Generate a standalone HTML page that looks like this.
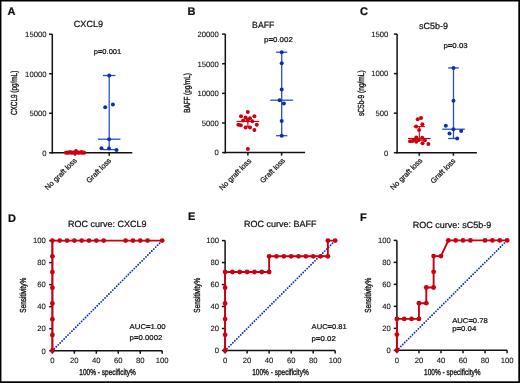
<!DOCTYPE html>
<html><head><meta charset="utf-8"><title>Figure</title>
<style>
html,body{margin:0;padding:0;background:#fff;}
body{width:520px;height:383px;overflow:hidden;}
svg{display:block;will-change:transform;}
text{stroke:#111;stroke-width:0.22px;}
.nb{stroke:none;}
.tk{stroke-width:0.1px;}
.ax{stroke-width:0.35px;}
svg{font-family:"Liberation Sans", sans-serif;text-rendering:geometricPrecision;}
</style></head>
<body>
<svg width="520" height="383" viewBox="0 0 520 383">
<rect x="0" y="0" width="520" height="383" fill="#fff"/>
<rect x="0" y="0" width="520" height="1.5" fill="#000"/>
<rect x="0" y="0" width="1.45" height="383" fill="#000"/>
<rect x="518.3" y="0" width="1.7" height="383" fill="#000"/>
<rect x="0" y="381.3" width="520" height="1.7" fill="#000"/>
<text x="7.40" y="14.90" font-size="11" text-anchor="start" fill="#111" font-weight="bold">A</text>
<text x="187.60" y="15.00" font-size="11" text-anchor="start" fill="#111" font-weight="bold">B</text>
<text x="360.00" y="15.00" font-size="11" text-anchor="start" fill="#111" font-weight="bold">C</text>
<text x="7.90" y="221.50" font-size="11" text-anchor="start" fill="#111" font-weight="bold">D</text>
<text x="188.00" y="220.30" font-size="11" text-anchor="start" fill="#111" font-weight="bold">E</text>
<text x="360.00" y="221.10" font-size="11" text-anchor="start" fill="#111" font-weight="bold">F</text>
<line x1="52.30" y1="34.20" x2="52.30" y2="153.55" stroke="#111" stroke-width="1.5" />
<line x1="51.55" y1="152.80" x2="132.30" y2="152.80" stroke="#111" stroke-width="1.5" />
<line x1="49.10" y1="152.80" x2="52.30" y2="152.80" stroke="#111" stroke-width="1.5" />
<text x="46.50" y="155.60" font-size="7.7" text-anchor="end" fill="#111" class="tk">0</text>
<line x1="49.10" y1="113.27" x2="52.30" y2="113.27" stroke="#111" stroke-width="1.5" />
<text x="46.50" y="116.07" font-size="7.7" text-anchor="end" fill="#111" class="tk">5000</text>
<line x1="49.10" y1="73.73" x2="52.30" y2="73.73" stroke="#111" stroke-width="1.5" />
<text x="46.50" y="76.53" font-size="7.7" text-anchor="end" fill="#111" class="tk">10000</text>
<line x1="49.10" y1="34.20" x2="52.30" y2="34.20" stroke="#111" stroke-width="1.5" />
<text x="46.50" y="37.00" font-size="7.7" text-anchor="end" fill="#111" class="tk">15000</text>
<line x1="75.00" y1="152.80" x2="75.00" y2="155.80" stroke="#111" stroke-width="1.5" />
<line x1="109.20" y1="152.80" x2="109.20" y2="155.80" stroke="#111" stroke-width="1.5" />
<text x="73.80" y="27.30" font-size="9" text-anchor="start" fill="#111" textLength="29.20" lengthAdjust="spacingAndGlyphs">CXCL9</text>
<text x="93.70" y="54.10" font-size="7" text-anchor="start" fill="#111" textLength="27.60" lengthAdjust="spacingAndGlyphs">p<tspan style="stroke-width:0.45px">=</tspan>0.001</text>
<text x="0" y="0" font-size="8.8" text-anchor="start" fill="#111" transform="translate(17.30,115.00) rotate(-90)" class="ax" textLength="44.30" lengthAdjust="spacingAndGlyphs">CXCL9 (pg/mL)</text>
<text x="0" y="0" font-size="7.45" text-anchor="end" fill="#111" transform="translate(77.30,161.00) rotate(-45)">No graft loss</text>
<text x="0" y="0" font-size="7.45" text-anchor="end" fill="#111" transform="translate(111.70,161.10) rotate(-45)">Graft loss</text>
<line x1="64.00" y1="152.40" x2="86.00" y2="152.40" stroke="#cc0010" stroke-width="1.3" />
<circle cx="66.00" cy="152.80" r="2.0" fill="#cc0010"/>
<circle cx="68.60" cy="152.80" r="2.0" fill="#cc0010"/>
<circle cx="71.20" cy="152.80" r="2.0" fill="#cc0010"/>
<circle cx="73.80" cy="152.80" r="2.0" fill="#cc0010"/>
<circle cx="76.40" cy="152.80" r="2.0" fill="#cc0010"/>
<circle cx="79.00" cy="152.80" r="2.0" fill="#cc0010"/>
<circle cx="81.60" cy="152.80" r="2.0" fill="#cc0010"/>
<circle cx="84.20" cy="152.80" r="2.0" fill="#cc0010"/>
<circle cx="67.30" cy="152.60" r="2.0" fill="#cc0010"/>
<circle cx="73.00" cy="152.60" r="2.0" fill="#cc0010"/>
<circle cx="78.70" cy="152.60" r="2.0" fill="#cc0010"/>
<circle cx="83.20" cy="152.60" r="2.0" fill="#cc0010"/>
<circle cx="70.10" cy="152.10" r="2.0" fill="#cc0010"/>
<circle cx="76.00" cy="151.00" r="2.0" fill="#cc0010"/>
<circle cx="81.40" cy="152.10" r="2.0" fill="#cc0010"/>
<line x1="109.20" y1="75.50" x2="109.20" y2="149.60" stroke="#2452c2" stroke-width="1.3" />
<line x1="102.95" y1="75.50" x2="115.45" y2="75.50" stroke="#2452c2" stroke-width="1.3" />
<line x1="102.95" y1="149.60" x2="115.45" y2="149.60" stroke="#2452c2" stroke-width="1.3" />
<line x1="97.95" y1="139.20" x2="120.45" y2="139.20" stroke="#2452c2" stroke-width="1.3" />
<circle cx="109.20" cy="75.50" r="2.0" fill="#0a30b0"/>
<circle cx="112.90" cy="104.55" r="2.0" fill="#0a30b0"/>
<circle cx="105.20" cy="107.30" r="2.0" fill="#0a30b0"/>
<circle cx="109.10" cy="139.20" r="2.0" fill="#0a30b0"/>
<circle cx="101.50" cy="148.30" r="2.0" fill="#0a30b0"/>
<circle cx="109.00" cy="148.60" r="2.0" fill="#0a30b0"/>
<circle cx="116.50" cy="149.90" r="2.0" fill="#0a30b0"/>
<line x1="225.30" y1="34.10" x2="225.30" y2="153.35" stroke="#111" stroke-width="1.5" />
<line x1="224.55" y1="152.60" x2="305.10" y2="152.60" stroke="#111" stroke-width="1.5" />
<line x1="222.10" y1="152.60" x2="225.30" y2="152.60" stroke="#111" stroke-width="1.5" />
<text x="218.80" y="155.40" font-size="7.7" text-anchor="end" fill="#111" class="tk">0</text>
<line x1="222.10" y1="122.97" x2="225.30" y2="122.97" stroke="#111" stroke-width="1.5" />
<text x="218.80" y="125.77" font-size="7.7" text-anchor="end" fill="#111" class="tk">5000</text>
<line x1="222.10" y1="93.35" x2="225.30" y2="93.35" stroke="#111" stroke-width="1.5" />
<text x="218.80" y="96.15" font-size="7.7" text-anchor="end" fill="#111" class="tk">10000</text>
<line x1="222.10" y1="63.72" x2="225.30" y2="63.72" stroke="#111" stroke-width="1.5" />
<text x="218.80" y="66.52" font-size="7.7" text-anchor="end" fill="#111" class="tk">15000</text>
<line x1="222.10" y1="34.10" x2="225.30" y2="34.10" stroke="#111" stroke-width="1.5" />
<text x="218.80" y="36.90" font-size="7.7" text-anchor="end" fill="#111" class="tk">20000</text>
<line x1="247.90" y1="152.60" x2="247.90" y2="155.60" stroke="#111" stroke-width="1.5" />
<line x1="281.60" y1="152.60" x2="281.60" y2="155.60" stroke="#111" stroke-width="1.5" />
<text x="252.10" y="27.90" font-size="9" text-anchor="start" fill="#111" textLength="22.30" lengthAdjust="spacingAndGlyphs">BAFF</text>
<text x="264.00" y="41.70" font-size="7" text-anchor="start" fill="#111" textLength="28.80" lengthAdjust="spacingAndGlyphs">p<tspan style="stroke-width:0.45px">=</tspan>0.002</text>
<text x="0" y="0" font-size="8.8" text-anchor="start" fill="#111" transform="translate(190.00,112.80) rotate(-90)" class="ax" textLength="39.70" lengthAdjust="spacingAndGlyphs">BAFF (pg/mL)</text>
<text x="0" y="0" font-size="7.45" text-anchor="end" fill="#111" transform="translate(251.80,161.30) rotate(-45)">No graft loss</text>
<text x="0" y="0" font-size="7.45" text-anchor="end" fill="#111" transform="translate(285.50,161.10) rotate(-45)">Graft loss</text>
<line x1="247.90" y1="118.60" x2="247.90" y2="126.40" stroke="#cc0010" stroke-width="1.1" />
<line x1="244.40" y1="118.60" x2="251.40" y2="118.60" stroke="#cc0010" stroke-width="1.1" />
<line x1="244.40" y1="126.40" x2="251.40" y2="126.40" stroke="#cc0010" stroke-width="1.1" />
<line x1="236.55" y1="121.40" x2="259.25" y2="121.40" stroke="#cc0010" stroke-width="1.1" />
<circle cx="247.80" cy="112.10" r="2.0" fill="#cc0010"/>
<circle cx="241.00" cy="116.20" r="2.0" fill="#cc0010"/>
<circle cx="254.40" cy="116.20" r="2.0" fill="#cc0010"/>
<circle cx="245.60" cy="117.50" r="2.0" fill="#cc0010"/>
<circle cx="250.00" cy="118.20" r="2.0" fill="#cc0010"/>
<circle cx="243.20" cy="120.60" r="2.0" fill="#cc0010"/>
<circle cx="247.60" cy="120.60" r="2.0" fill="#cc0010"/>
<circle cx="252.30" cy="121.30" r="2.0" fill="#cc0010"/>
<circle cx="238.40" cy="124.70" r="2.0" fill="#cc0010"/>
<circle cx="240.80" cy="125.30" r="2.0" fill="#cc0010"/>
<circle cx="256.80" cy="124.80" r="2.0" fill="#cc0010"/>
<circle cx="245.60" cy="127.40" r="2.0" fill="#cc0010"/>
<circle cx="250.00" cy="127.40" r="2.0" fill="#cc0010"/>
<circle cx="254.40" cy="130.10" r="2.0" fill="#cc0010"/>
<circle cx="247.90" cy="148.90" r="2.0" fill="#cc0010"/>
<line x1="281.70" y1="52.20" x2="281.70" y2="135.70" stroke="#2452c2" stroke-width="1.3" />
<line x1="276.10" y1="52.20" x2="287.30" y2="52.20" stroke="#2452c2" stroke-width="1.3" />
<line x1="276.10" y1="135.70" x2="287.30" y2="135.70" stroke="#2452c2" stroke-width="1.3" />
<line x1="270.25" y1="100.20" x2="293.15" y2="100.20" stroke="#2452c2" stroke-width="1.3" />
<circle cx="281.70" cy="52.20" r="2.0" fill="#0a30b0"/>
<circle cx="281.70" cy="63.20" r="2.0" fill="#0a30b0"/>
<circle cx="281.70" cy="89.40" r="2.0" fill="#0a30b0"/>
<circle cx="279.60" cy="100.20" r="2.0" fill="#0a30b0"/>
<circle cx="283.90" cy="103.40" r="2.0" fill="#0a30b0"/>
<circle cx="281.70" cy="120.90" r="2.0" fill="#0a30b0"/>
<circle cx="281.70" cy="135.70" r="2.0" fill="#0a30b0"/>
<line x1="397.10" y1="34.10" x2="397.10" y2="153.45" stroke="#111" stroke-width="1.5" />
<line x1="396.35" y1="152.70" x2="476.90" y2="152.70" stroke="#111" stroke-width="1.5" />
<line x1="393.90" y1="152.70" x2="397.10" y2="152.70" stroke="#111" stroke-width="1.5" />
<text x="388.30" y="155.50" font-size="7.7" text-anchor="end" fill="#111" class="tk">0</text>
<line x1="393.90" y1="113.17" x2="397.10" y2="113.17" stroke="#111" stroke-width="1.5" />
<text x="388.30" y="115.97" font-size="7.7" text-anchor="end" fill="#111" class="tk">500</text>
<line x1="393.90" y1="73.63" x2="397.10" y2="73.63" stroke="#111" stroke-width="1.5" />
<text x="388.30" y="76.43" font-size="7.7" text-anchor="end" fill="#111" class="tk">1000</text>
<line x1="393.90" y1="34.10" x2="397.10" y2="34.10" stroke="#111" stroke-width="1.5" />
<text x="388.30" y="36.90" font-size="7.7" text-anchor="end" fill="#111" class="tk">1500</text>
<line x1="419.20" y1="152.70" x2="419.20" y2="155.70" stroke="#111" stroke-width="1.5" />
<line x1="453.40" y1="152.70" x2="453.40" y2="155.70" stroke="#111" stroke-width="1.5" />
<text x="419.00" y="28.50" font-size="9" text-anchor="start" fill="#111" textLength="29.10" lengthAdjust="spacingAndGlyphs">sC5b-9</text>
<text x="443.40" y="47.50" font-size="7" text-anchor="start" fill="#111" textLength="24.30" lengthAdjust="spacingAndGlyphs">p<tspan style="stroke-width:0.45px">=</tspan>0.03</text>
<text x="0" y="0" font-size="8.8" text-anchor="start" fill="#111" transform="translate(363.70,116.00) rotate(-90)" class="ax" textLength="45.70" lengthAdjust="spacingAndGlyphs">sC5b-9 (ng/mL)</text>
<text x="0" y="0" font-size="7.45" text-anchor="end" fill="#111" transform="translate(422.80,161.00) rotate(-45)">No graft loss</text>
<text x="0" y="0" font-size="7.45" text-anchor="end" fill="#111" transform="translate(456.00,161.40) rotate(-45)">Graft loss</text>
<line x1="419.30" y1="126.60" x2="419.30" y2="140.20" stroke="#cc0010" stroke-width="1.1" />
<line x1="413.65" y1="126.60" x2="424.95" y2="126.60" stroke="#cc0010" stroke-width="1.1" />
<line x1="413.65" y1="140.20" x2="424.95" y2="140.20" stroke="#cc0010" stroke-width="1.1" />
<line x1="408.00" y1="138.50" x2="430.60" y2="138.50" stroke="#cc0010" stroke-width="1.1" />
<circle cx="417.70" cy="119.30" r="2.0" fill="#cc0010"/>
<circle cx="421.00" cy="118.10" r="2.0" fill="#cc0010"/>
<circle cx="416.10" cy="126.60" r="2.0" fill="#cc0010"/>
<circle cx="422.40" cy="124.20" r="2.0" fill="#cc0010"/>
<circle cx="419.10" cy="129.90" r="2.0" fill="#cc0010"/>
<circle cx="416.30" cy="137.40" r="2.0" fill="#cc0010"/>
<circle cx="422.20" cy="137.80" r="2.0" fill="#cc0010"/>
<circle cx="410.10" cy="141.20" r="2.0" fill="#cc0010"/>
<circle cx="412.50" cy="140.90" r="2.0" fill="#cc0010"/>
<circle cx="416.30" cy="141.70" r="2.0" fill="#cc0010"/>
<circle cx="418.70" cy="140.10" r="2.0" fill="#cc0010"/>
<circle cx="424.90" cy="140.30" r="2.0" fill="#cc0010"/>
<circle cx="422.50" cy="143.30" r="2.0" fill="#cc0010"/>
<circle cx="428.40" cy="144.10" r="2.0" fill="#cc0010"/>
<circle cx="414.70" cy="139.80" r="2.0" fill="#cc0010"/>
<line x1="453.50" y1="67.90" x2="453.50" y2="138.50" stroke="#2452c2" stroke-width="1.3" />
<line x1="448.10" y1="67.90" x2="458.90" y2="67.90" stroke="#2452c2" stroke-width="1.3" />
<line x1="448.10" y1="138.50" x2="458.90" y2="138.50" stroke="#2452c2" stroke-width="1.3" />
<line x1="442.20" y1="129.20" x2="464.80" y2="129.20" stroke="#2452c2" stroke-width="1.3" />
<circle cx="453.50" cy="67.90" r="2.0" fill="#0a30b0"/>
<circle cx="453.50" cy="100.80" r="2.0" fill="#0a30b0"/>
<circle cx="445.80" cy="125.80" r="2.0" fill="#0a30b0"/>
<circle cx="453.40" cy="129.20" r="2.0" fill="#0a30b0"/>
<circle cx="461.20" cy="131.10" r="2.0" fill="#0a30b0"/>
<circle cx="449.50" cy="133.40" r="2.0" fill="#0a30b0"/>
<circle cx="457.20" cy="138.50" r="2.0" fill="#0a30b0"/>
<line x1="52.40" y1="240.60" x2="52.40" y2="351.45" stroke="#111" stroke-width="1.5" />
<line x1="51.65" y1="350.70" x2="162.20" y2="350.70" stroke="#111" stroke-width="1.5" />
<line x1="49.20" y1="350.70" x2="52.40" y2="350.70" stroke="#111" stroke-width="1.5" />
<text x="45.90" y="353.50" font-size="7.7" text-anchor="end" fill="#111" class="tk">0</text>
<line x1="52.40" y1="350.70" x2="52.40" y2="353.70" stroke="#111" stroke-width="1.5" />
<text x="52.40" y="362.60" font-size="7.7" text-anchor="middle" fill="#111" class="tk">0</text>
<line x1="49.20" y1="328.68" x2="52.40" y2="328.68" stroke="#111" stroke-width="1.5" />
<text x="45.90" y="331.48" font-size="7.7" text-anchor="end" fill="#111" class="tk">20</text>
<line x1="74.36" y1="350.70" x2="74.36" y2="353.70" stroke="#111" stroke-width="1.5" />
<text x="74.36" y="362.60" font-size="7.7" text-anchor="middle" fill="#111" class="tk">20</text>
<line x1="49.20" y1="306.66" x2="52.40" y2="306.66" stroke="#111" stroke-width="1.5" />
<text x="45.90" y="309.46" font-size="7.7" text-anchor="end" fill="#111" class="tk">40</text>
<line x1="96.32" y1="350.70" x2="96.32" y2="353.70" stroke="#111" stroke-width="1.5" />
<text x="96.32" y="362.60" font-size="7.7" text-anchor="middle" fill="#111" class="tk">40</text>
<line x1="49.20" y1="284.64" x2="52.40" y2="284.64" stroke="#111" stroke-width="1.5" />
<text x="45.90" y="287.44" font-size="7.7" text-anchor="end" fill="#111" class="tk">60</text>
<line x1="118.28" y1="350.70" x2="118.28" y2="353.70" stroke="#111" stroke-width="1.5" />
<text x="118.28" y="362.60" font-size="7.7" text-anchor="middle" fill="#111" class="tk">60</text>
<line x1="49.20" y1="262.62" x2="52.40" y2="262.62" stroke="#111" stroke-width="1.5" />
<text x="45.90" y="265.42" font-size="7.7" text-anchor="end" fill="#111" class="tk">80</text>
<line x1="140.24" y1="350.70" x2="140.24" y2="353.70" stroke="#111" stroke-width="1.5" />
<text x="140.24" y="362.60" font-size="7.7" text-anchor="middle" fill="#111" class="tk">80</text>
<line x1="49.20" y1="240.60" x2="52.40" y2="240.60" stroke="#111" stroke-width="1.5" />
<text x="45.90" y="243.40" font-size="7.7" text-anchor="end" fill="#111" class="tk">100</text>
<line x1="162.20" y1="350.70" x2="162.20" y2="353.70" stroke="#111" stroke-width="1.5" />
<text x="162.20" y="362.60" font-size="7.7" text-anchor="middle" fill="#111" class="tk">100</text>
<line x1="52.40" y1="350.70" x2="162.20" y2="240.60" stroke="#0a2cb4" stroke-width="1.85" stroke-dasharray="0 2.76" stroke-linecap="round"/>
<polyline points="52.40,350.70 52.40,240.60 162.20,240.60" fill="none" stroke="#cc0010" stroke-width="1.9" stroke-linejoin="miter"/>
<circle cx="52.40" cy="350.70" r="2.4" fill="#cc0010"/>
<circle cx="52.40" cy="334.97" r="2.4" fill="#cc0010"/>
<circle cx="52.40" cy="319.24" r="2.4" fill="#cc0010"/>
<circle cx="52.40" cy="303.51" r="2.4" fill="#cc0010"/>
<circle cx="52.40" cy="287.79" r="2.4" fill="#cc0010"/>
<circle cx="52.40" cy="272.06" r="2.4" fill="#cc0010"/>
<circle cx="52.40" cy="256.33" r="2.4" fill="#cc0010"/>
<circle cx="52.40" cy="240.60" r="2.4" fill="#cc0010"/>
<circle cx="59.72" cy="240.60" r="2.4" fill="#cc0010"/>
<circle cx="67.04" cy="240.60" r="2.4" fill="#cc0010"/>
<circle cx="74.36" cy="240.60" r="2.4" fill="#cc0010"/>
<circle cx="81.68" cy="240.60" r="2.4" fill="#cc0010"/>
<circle cx="89.00" cy="240.60" r="2.4" fill="#cc0010"/>
<circle cx="96.32" cy="240.60" r="2.4" fill="#cc0010"/>
<circle cx="103.64" cy="240.60" r="2.4" fill="#cc0010"/>
<circle cx="125.60" cy="240.60" r="2.4" fill="#cc0010"/>
<circle cx="132.92" cy="240.60" r="2.4" fill="#cc0010"/>
<circle cx="140.24" cy="240.60" r="2.4" fill="#cc0010"/>
<circle cx="147.56" cy="240.60" r="2.4" fill="#cc0010"/>
<circle cx="162.20" cy="240.60" r="2.4" fill="#cc0010"/>
<text x="107.30" y="227.20" font-size="9" text-anchor="middle" fill="#111">ROC curve: CXCL9</text>
<text x="129.60" y="328.70" font-size="7" text-anchor="start" fill="#111" textLength="36.10" lengthAdjust="spacingAndGlyphs">AUC<tspan style="stroke-width:0.45px">=</tspan>1.00</text>
<text x="129.60" y="339.50" font-size="7" text-anchor="start" fill="#111" textLength="32.70" lengthAdjust="spacingAndGlyphs">p<tspan style="stroke-width:0.45px">=</tspan>0.0002</text>
<text x="107.60" y="374.50" font-size="8.6" text-anchor="middle" fill="#111" class="ax" textLength="56.50" lengthAdjust="spacingAndGlyphs">100% - specificity%</text>
<text x="0" y="0" font-size="8.8" text-anchor="middle" fill="#111" transform="translate(25.60,295.25) rotate(-90)" class="ax" textLength="34.90" lengthAdjust="spacingAndGlyphs">Sensitivity%</text>
<line x1="225.10" y1="240.60" x2="225.10" y2="351.25" stroke="#111" stroke-width="1.5" />
<line x1="224.35" y1="350.50" x2="335.20" y2="350.50" stroke="#111" stroke-width="1.5" />
<line x1="221.90" y1="350.50" x2="225.10" y2="350.50" stroke="#111" stroke-width="1.5" />
<text x="219.00" y="353.30" font-size="7.7" text-anchor="end" fill="#111" class="tk">0</text>
<line x1="225.10" y1="350.50" x2="225.10" y2="353.50" stroke="#111" stroke-width="1.5" />
<text x="225.10" y="362.60" font-size="7.7" text-anchor="middle" fill="#111" class="tk">0</text>
<line x1="221.90" y1="328.52" x2="225.10" y2="328.52" stroke="#111" stroke-width="1.5" />
<text x="219.00" y="331.32" font-size="7.7" text-anchor="end" fill="#111" class="tk">20</text>
<line x1="247.12" y1="350.50" x2="247.12" y2="353.50" stroke="#111" stroke-width="1.5" />
<text x="247.12" y="362.60" font-size="7.7" text-anchor="middle" fill="#111" class="tk">20</text>
<line x1="221.90" y1="306.54" x2="225.10" y2="306.54" stroke="#111" stroke-width="1.5" />
<text x="219.00" y="309.34" font-size="7.7" text-anchor="end" fill="#111" class="tk">40</text>
<line x1="269.14" y1="350.50" x2="269.14" y2="353.50" stroke="#111" stroke-width="1.5" />
<text x="269.14" y="362.60" font-size="7.7" text-anchor="middle" fill="#111" class="tk">40</text>
<line x1="221.90" y1="284.56" x2="225.10" y2="284.56" stroke="#111" stroke-width="1.5" />
<text x="219.00" y="287.36" font-size="7.7" text-anchor="end" fill="#111" class="tk">60</text>
<line x1="291.16" y1="350.50" x2="291.16" y2="353.50" stroke="#111" stroke-width="1.5" />
<text x="291.16" y="362.60" font-size="7.7" text-anchor="middle" fill="#111" class="tk">60</text>
<line x1="221.90" y1="262.58" x2="225.10" y2="262.58" stroke="#111" stroke-width="1.5" />
<text x="219.00" y="265.38" font-size="7.7" text-anchor="end" fill="#111" class="tk">80</text>
<line x1="313.18" y1="350.50" x2="313.18" y2="353.50" stroke="#111" stroke-width="1.5" />
<text x="313.18" y="362.60" font-size="7.7" text-anchor="middle" fill="#111" class="tk">80</text>
<line x1="221.90" y1="240.60" x2="225.10" y2="240.60" stroke="#111" stroke-width="1.5" />
<text x="219.00" y="243.40" font-size="7.7" text-anchor="end" fill="#111" class="tk">100</text>
<line x1="335.20" y1="350.50" x2="335.20" y2="353.50" stroke="#111" stroke-width="1.5" />
<text x="335.20" y="362.60" font-size="7.7" text-anchor="middle" fill="#111" class="tk">100</text>
<line x1="225.10" y1="350.50" x2="335.20" y2="240.60" stroke="#0a2cb4" stroke-width="1.85" stroke-dasharray="0 2.76" stroke-linecap="round"/>
<polyline points="225.10,350.50 225.10,272.00 269.14,272.00 269.14,256.30 327.86,256.30 327.86,240.60 335.20,240.60" fill="none" stroke="#cc0010" stroke-width="1.9" stroke-linejoin="miter"/>
<circle cx="225.10" cy="350.50" r="2.4" fill="#cc0010"/>
<circle cx="225.10" cy="334.80" r="2.4" fill="#cc0010"/>
<circle cx="225.10" cy="319.10" r="2.4" fill="#cc0010"/>
<circle cx="225.10" cy="303.40" r="2.4" fill="#cc0010"/>
<circle cx="225.10" cy="287.70" r="2.4" fill="#cc0010"/>
<circle cx="225.10" cy="272.00" r="2.4" fill="#cc0010"/>
<circle cx="232.44" cy="272.00" r="2.4" fill="#cc0010"/>
<circle cx="239.78" cy="272.00" r="2.4" fill="#cc0010"/>
<circle cx="247.12" cy="272.00" r="2.4" fill="#cc0010"/>
<circle cx="254.46" cy="272.00" r="2.4" fill="#cc0010"/>
<circle cx="261.80" cy="272.00" r="2.4" fill="#cc0010"/>
<circle cx="269.14" cy="272.00" r="2.4" fill="#cc0010"/>
<circle cx="269.14" cy="256.30" r="2.4" fill="#cc0010"/>
<circle cx="276.48" cy="256.30" r="2.4" fill="#cc0010"/>
<circle cx="283.82" cy="256.30" r="2.4" fill="#cc0010"/>
<circle cx="291.16" cy="256.30" r="2.4" fill="#cc0010"/>
<circle cx="298.50" cy="256.30" r="2.4" fill="#cc0010"/>
<circle cx="305.84" cy="256.30" r="2.4" fill="#cc0010"/>
<circle cx="313.18" cy="256.30" r="2.4" fill="#cc0010"/>
<circle cx="320.52" cy="256.30" r="2.4" fill="#cc0010"/>
<circle cx="327.86" cy="256.30" r="2.4" fill="#cc0010"/>
<circle cx="327.86" cy="240.60" r="2.4" fill="#cc0010"/>
<circle cx="335.20" cy="240.60" r="2.4" fill="#cc0010"/>
<text x="280.15" y="227.30" font-size="9" text-anchor="middle" fill="#111">ROC curve: BAFF</text>
<text x="311.60" y="329.10" font-size="7" text-anchor="start" fill="#111" textLength="35.20" lengthAdjust="spacingAndGlyphs">AUC<tspan style="stroke-width:0.45px">=</tspan>0.81</text>
<text x="311.60" y="340.70" font-size="7" text-anchor="start" fill="#111" textLength="24.20" lengthAdjust="spacingAndGlyphs">p<tspan style="stroke-width:0.45px">=</tspan>0.02</text>
<text x="280.45" y="374.50" font-size="8.6" text-anchor="middle" fill="#111" class="ax" textLength="56.50" lengthAdjust="spacingAndGlyphs">100% - specificity%</text>
<text x="0" y="0" font-size="8.8" text-anchor="middle" fill="#111" transform="translate(200.10,295.25) rotate(-90)" class="ax" textLength="34.90" lengthAdjust="spacingAndGlyphs">Sensitivity%</text>
<line x1="396.90" y1="240.40" x2="396.90" y2="351.05" stroke="#111" stroke-width="1.5" />
<line x1="396.15" y1="350.30" x2="507.10" y2="350.30" stroke="#111" stroke-width="1.5" />
<line x1="393.70" y1="350.30" x2="396.90" y2="350.30" stroke="#111" stroke-width="1.5" />
<text x="390.90" y="353.10" font-size="7.7" text-anchor="end" fill="#111" class="tk">0</text>
<line x1="396.90" y1="350.30" x2="396.90" y2="353.30" stroke="#111" stroke-width="1.5" />
<text x="396.90" y="362.60" font-size="7.7" text-anchor="middle" fill="#111" class="tk">0</text>
<line x1="393.70" y1="328.32" x2="396.90" y2="328.32" stroke="#111" stroke-width="1.5" />
<text x="390.90" y="331.12" font-size="7.7" text-anchor="end" fill="#111" class="tk">20</text>
<line x1="418.94" y1="350.30" x2="418.94" y2="353.30" stroke="#111" stroke-width="1.5" />
<text x="418.94" y="362.60" font-size="7.7" text-anchor="middle" fill="#111" class="tk">20</text>
<line x1="393.70" y1="306.34" x2="396.90" y2="306.34" stroke="#111" stroke-width="1.5" />
<text x="390.90" y="309.14" font-size="7.7" text-anchor="end" fill="#111" class="tk">40</text>
<line x1="440.98" y1="350.30" x2="440.98" y2="353.30" stroke="#111" stroke-width="1.5" />
<text x="440.98" y="362.60" font-size="7.7" text-anchor="middle" fill="#111" class="tk">40</text>
<line x1="393.70" y1="284.36" x2="396.90" y2="284.36" stroke="#111" stroke-width="1.5" />
<text x="390.90" y="287.16" font-size="7.7" text-anchor="end" fill="#111" class="tk">60</text>
<line x1="463.02" y1="350.30" x2="463.02" y2="353.30" stroke="#111" stroke-width="1.5" />
<text x="463.02" y="362.60" font-size="7.7" text-anchor="middle" fill="#111" class="tk">60</text>
<line x1="393.70" y1="262.38" x2="396.90" y2="262.38" stroke="#111" stroke-width="1.5" />
<text x="390.90" y="265.18" font-size="7.7" text-anchor="end" fill="#111" class="tk">80</text>
<line x1="485.06" y1="350.30" x2="485.06" y2="353.30" stroke="#111" stroke-width="1.5" />
<text x="485.06" y="362.60" font-size="7.7" text-anchor="middle" fill="#111" class="tk">80</text>
<line x1="393.70" y1="240.40" x2="396.90" y2="240.40" stroke="#111" stroke-width="1.5" />
<text x="390.90" y="243.20" font-size="7.7" text-anchor="end" fill="#111" class="tk">100</text>
<line x1="507.10" y1="350.30" x2="507.10" y2="353.30" stroke="#111" stroke-width="1.5" />
<text x="507.10" y="362.60" font-size="7.7" text-anchor="middle" fill="#111" class="tk">100</text>
<line x1="396.90" y1="350.30" x2="507.10" y2="240.40" stroke="#0a2cb4" stroke-width="1.85" stroke-dasharray="0 2.76" stroke-linecap="round"/>
<polyline points="396.90,350.30 396.90,318.90 418.94,318.90 418.94,303.20 426.29,303.20 426.29,287.50 433.63,287.50 433.63,256.10 440.98,256.10 448.33,240.40 507.10,240.40" fill="none" stroke="#cc0010" stroke-width="1.9" stroke-linejoin="miter"/>
<circle cx="396.90" cy="350.30" r="2.4" fill="#cc0010"/>
<circle cx="396.90" cy="334.60" r="2.4" fill="#cc0010"/>
<circle cx="396.90" cy="318.90" r="2.4" fill="#cc0010"/>
<circle cx="404.25" cy="318.90" r="2.4" fill="#cc0010"/>
<circle cx="411.59" cy="318.90" r="2.4" fill="#cc0010"/>
<circle cx="418.94" cy="318.90" r="2.4" fill="#cc0010"/>
<circle cx="418.94" cy="303.20" r="2.4" fill="#cc0010"/>
<circle cx="426.29" cy="303.20" r="2.4" fill="#cc0010"/>
<circle cx="426.29" cy="287.50" r="2.4" fill="#cc0010"/>
<circle cx="433.63" cy="287.50" r="2.4" fill="#cc0010"/>
<circle cx="433.63" cy="271.80" r="2.4" fill="#cc0010"/>
<circle cx="433.63" cy="256.10" r="2.4" fill="#cc0010"/>
<circle cx="440.98" cy="256.10" r="2.4" fill="#cc0010"/>
<circle cx="448.33" cy="240.40" r="2.4" fill="#cc0010"/>
<circle cx="455.67" cy="240.40" r="2.4" fill="#cc0010"/>
<circle cx="463.02" cy="240.40" r="2.4" fill="#cc0010"/>
<circle cx="470.37" cy="240.40" r="2.4" fill="#cc0010"/>
<circle cx="485.06" cy="240.40" r="2.4" fill="#cc0010"/>
<circle cx="492.41" cy="240.40" r="2.4" fill="#cc0010"/>
<circle cx="499.75" cy="240.40" r="2.4" fill="#cc0010"/>
<circle cx="507.10" cy="240.40" r="2.4" fill="#cc0010"/>
<text x="452.00" y="227.50" font-size="9" text-anchor="middle" fill="#111">ROC curve: sC5b-9</text>
<text x="452.20" y="323.10" font-size="7" text-anchor="start" fill="#111" textLength="35.60" lengthAdjust="spacingAndGlyphs">AUC<tspan style="stroke-width:0.45px">=</tspan>0.78</text>
<text x="452.20" y="330.80" font-size="7" text-anchor="start" fill="#111" textLength="24.10" lengthAdjust="spacingAndGlyphs">p<tspan style="stroke-width:0.45px">=</tspan>0.04</text>
<text x="452.30" y="374.50" font-size="8.6" text-anchor="middle" fill="#111" class="ax" textLength="56.50" lengthAdjust="spacingAndGlyphs">100% - specificity%</text>
<text x="0" y="0" font-size="8.8" text-anchor="middle" fill="#111" transform="translate(371.30,295.25) rotate(-90)" class="ax" textLength="34.90" lengthAdjust="spacingAndGlyphs">Sensitivity%</text>
</svg>
</body></html>
